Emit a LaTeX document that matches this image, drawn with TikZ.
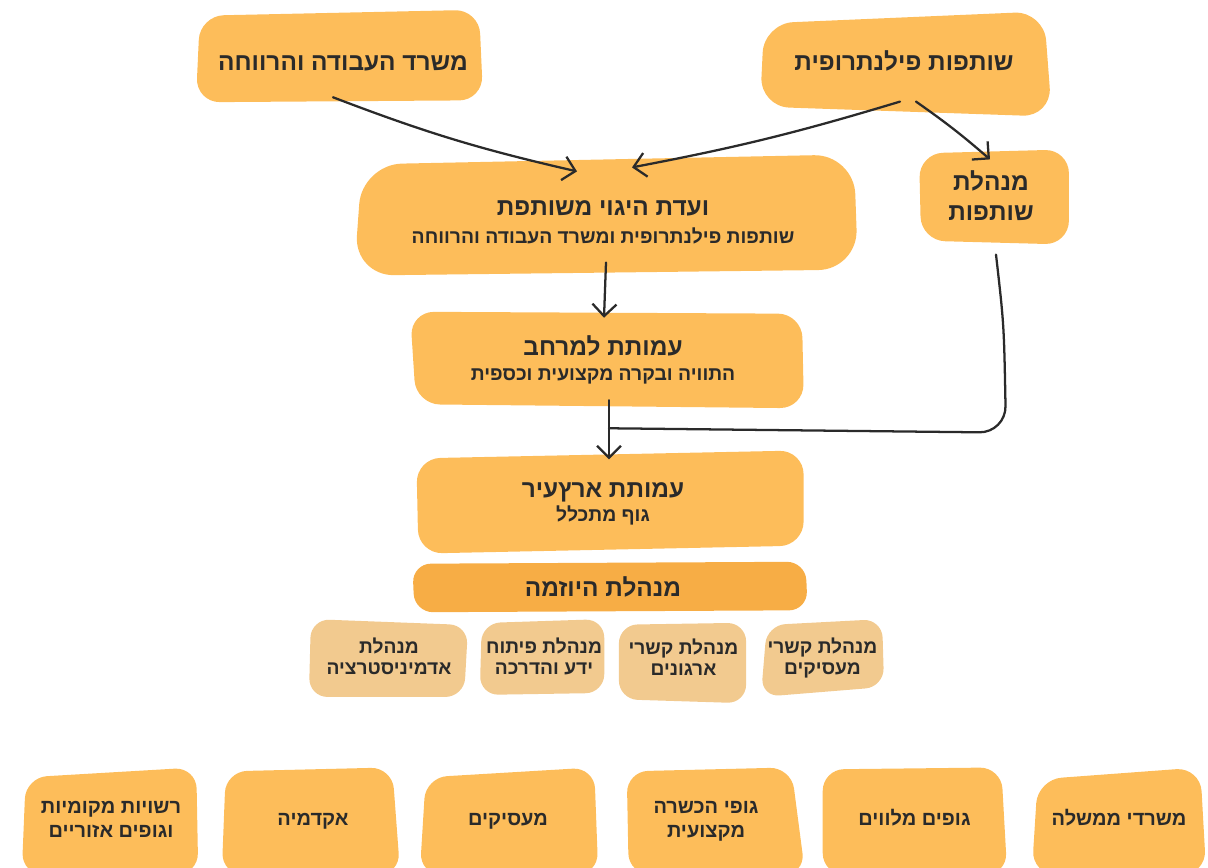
\documentclass[tikz,border=0pt]{standalone}
\usepackage{fontspec}
\newfontfamily\heb[Script=Hebrew]{Liberation Sans}
\TeXXeTstate=1
\usetikzlibrary{arrows.meta,calc}
\newcommand\myR[1]{\beginR#1\endR}
\definecolor{boxc}{HTML}{FDBD5A}
\definecolor{darkc}{HTML}{F7AD45}
\definecolor{tanc}{HTML}{F2CA8F}
\definecolor{ink}{HTML}{2A2A2A}
\tikzset{
  box/.style={inner sep=0pt, draw=none, fill=none},
  bfill/.style={fill=boxc, rounded corners=18pt},
  dfill/.style={fill=darkc, rounded corners=14pt},
  sfill/.style={fill=tanc, rounded corners=14pt},
  ttl/.style={anchor=base, inner sep=0pt, text=ink, font=\heb\bfseries\fontsize{18.3}{22}\selectfont},
  subt/.style={ttl, font=\heb\bfseries\fontsize{14.5}{17}\selectfont},
  stxt/.style={ttl, font=\heb\bfseries\fontsize{14.4}{17}\selectfont},
  btxt/.style={ttl, font=\heb\bfseries\fontsize{15}{18}\selectfont},
  conn/.style={draw=ink, line width=1.7pt, line cap=round},
  arr/.style={conn, -{Straight Barb[length=9pt,width=18pt]}},
}
% #1 node, #2 fill style, #3..#6 offsets of nw, ne, se, sw corners
\newcommand\blobfill[6]{%
  \fill[#2] ($(#1.north west)+#3$) -- ($(#1.north east)+#4$) -- ($(#1.south east)+#5$) -- ($(#1.south west)+#6$) -- cycle;}
\begin{document}
\begin{tikzpicture}[x=0.75pt,y=-0.75pt]
\useasboundingbox (0,0) rectangle (1208,868);
\clip (0,0) rectangle (1208,868);

% boxes (outlines)
\node[box, minimum width=215pt, minimum height=72pt] (mol) at (339.5,58) {};
\node[box, minimum width=217pt, minimum height=77pt] (phil) at (905,63) {};
\node[box, minimum width=382pt, minimum height=95pt] (steer) at (607,218) {};
\node[box, minimum width=115pt, minimum height=71pt] (part) at (994,197) {};
\node[box, minimum width=298pt, minimum height=75pt] (lamer) at (609,360) {};
\node[box, minimum width=296pt, minimum height=77pt] (eretz) at (610,502) {};
\node[box, minimum width=296pt, minimum height=37.5pt] (init) at (610,587) {};

\node[box, minimum width=119pt, minimum height=58pt] (adm) at (388.5,658) {};
\node[box, minimum width=94.5pt, minimum height=58pt] (know) at (543,658) {};
\node[box, minimum width=95pt, minimum height=60pt] (org) at (682.5,663) {};
\node[box, minimum width=92pt, minimum height=58pt] (emp) at (822.5,658) {};

\node[box, minimum width=132pt, minimum height=80pt] (rash) at (110,821) {};
\node[box, minimum width=133.5pt, minimum height=80pt] (acad) at (311,821) {};
\node[box, minimum width=133.5pt, minimum height=80pt] (maas) at (509,821) {};
\node[box, minimum width=135pt, minimum height=80pt] (hach) at (715,821) {};
\node[box, minimum width=138pt, minimum height=80pt] (mel) at (915,821) {};
\node[box, minimum width=130.5pt, minimum height=80pt] (gov) at (1119,821) {};

% hand-drawn-looking fills
\blobfill{mol}{bfill}{(4,6)}{(-4,0)}{(0,-6)}{(0,-4)}
\blobfill{phil}{bfill, rounded corners=22pt}{(4,12)}{(-6,0)}{(2,2)}{(0,-8)}
\blobfill{steer}{bfill, rounded corners=30pt}{(10,10)}{(-8,0)}{(-4,-12)}{(2,-6)}
\blobfill{part}{bfill}{(2,4)}{(-2,0)}{(-2,0)}{(4,-4)}
\blobfill{lamer}{bfill}{(0,2)}{(-6,4)}{(-4,-2)}{(6,-6)}
\blobfill{eretz}{bfill}{(4,8)}{(-4,0)}{(-4,-8)}{(6,0)}
\blobfill{init}{dfill}{(0,2)}{(-2,0)}{(0,-2)}{(2,0)}
\blobfill{adm}{sfill}{(2,0)}{(0,6)}{(-4,0)}{(0,0)}
\blobfill{know}{sfill}{(2,4)}{(-2,0)}{(-2,-4)}{(0,-2)}
\blobfill{org}{sfill}{(0,2)}{(0,0)}{(0,0)}{(0,-4)}
\blobfill{emp}{sfill}{(6,6)}{(-2,0)}{(0,-10)}{(0,0)}
\blobfill{rash}{bfill, rounded corners=16pt}{(4,10)}{(-2,0)}{(0,0)}{(0,0)}
\blobfill{acad}{bfill, rounded corners=16pt}{(4,4)}{(-8,0)}{(0,0)}{(0,0)}
\blobfill{maas}{bfill, rounded corners=16pt}{(6,10)}{(-4,0)}{(0,0)}{(0,0)}
\blobfill{hach}{bfill, rounded corners=16pt}{(2,4)}{(-14,0)}{(0,0)}{(4,0)}
\blobfill{mel}{bfill, rounded corners=16pt}{(0,2)}{(-6,0)}{(0,0)}{(0,0)}
\blobfill{gov}{bfill, rounded corners=18pt}{(6,12)}{(-6,0)}{(0,0)}{(0,0)}

% texts
\node[ttl] (molT) at (343,70) {\myR{משרד העבודה והרווחה}};
\node[ttl] (philT) at (904,70) {\myR{שותפות פילנתרופית}};
\node[ttl] (steerT) at (603,215) {\myR{ועדת היגוי משותפת}};
\node[subt] (steerS) at (603,243) {\myR{שותפות פילנתרופית ומשרד העבודה והרווחה}};
\node[ttl] (partT) at (991,190) {\myR{מנהלת}};
\node[ttl] (partS) at (991,220) {\myR{שותפות}};
\node[ttl] (lamerT) at (603,355) {\myR{עמותת למרחב}};
\node[subt] (lamerS) at (603,380) {\myR{התוויה ובקרה מקצועית וכספית}};
\node[ttl] (eretzT) at (603,497) {\myR{עמותת ארץעיר}};
\node[subt] (eretzS) at (603,521) {\myR{גוף מתכלל}};
\node[ttl] (initT) at (603,596) {\myR{מנהלת היוזמה}};

\node[stxt] (admA) at (389,653) {\myR{מנהלת}};
\node[stxt] (admB) at (389,674) {\myR{אדמיניסטרציה}};
\node[stxt] (knowA) at (544,653) {\myR{מנהלת פיתוח}};
\node[stxt] (knowB) at (544,674) {\myR{ידע והדרכה}};
\node[stxt] (orgA) at (683.5,654) {\myR{מנהלת קשרי}};
\node[stxt] (orgB) at (683.5,675) {\myR{ארגונים}};
\node[stxt] (empA) at (822.5,653) {\myR{מנהלת קשרי}};
\node[stxt] (empB) at (822.5,674) {\myR{מעסיקים}};

\node[btxt] (rashA) at (111,813) {\myR{רשויות מקומיות}};
\node[btxt] (rashB) at (111,837) {\myR{וגופים אזוריים}};
\node[btxt] (acadT) at (313,825) {\myR{אקדמיה}};
\node[btxt] (maasT) at (508,825) {\myR{מעסיקים}};
\node[btxt] (hachA) at (706,813) {\myR{גופי הכשרה}};
\node[btxt] (hachB) at (706,837) {\myR{מקצועית}};
\node[btxt] (melT) at (914.5,825) {\myR{גופים מלווים}};
\node[btxt] (govT) at (1119,825) {\myR{משרדי ממשלה}};

% connectors
\draw[arr] ($(mol.south)+(-6.5,-9)$) to[bend right=4] ($(steer.north)+(-30,17)$);
\draw[arr] ($(phil.south)+(-5,-13)$) to[bend left=3] ($(steer.north)+(25,13)$);
\draw[arr] ($(phil.south)+(11,-13)$) to[bend left=3] ($(part.north)+(-4,10)$);
\draw[arr] ($(steer.south)+(-1,-19)$) -- ($(lamer.north)+(-5,8)$);
\coordinate (join) at ($(lamer.south)+(0,18)$);
\draw[arr] ($(lamer.south)+(0,-10)$) -- ($(eretz.north)+(-1,9)$);
\draw[conn, rounded corners=20pt] ($(part.south)+(2,10)$) .. controls ($(part.south)+(10,80)$) .. ($(part.south)+(12,188)$) -- (join);
\end{tikzpicture}
\end{document}
